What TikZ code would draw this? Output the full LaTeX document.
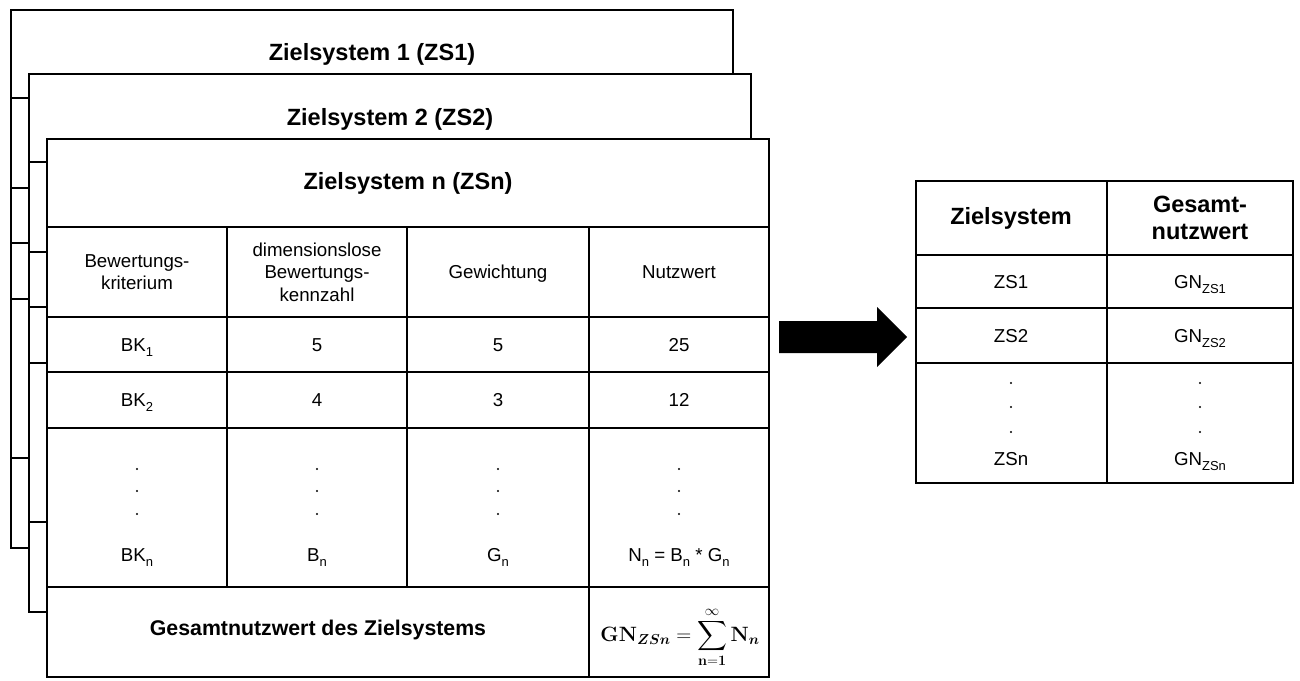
\documentclass[tikz,border=0pt]{standalone}
\usepackage{amsmath}
\usepackage[no-math]{fontspec}
\setmainfont{Liberation Sans}
\usetikzlibrary{calc}

% lowered, smaller index for plain-text labels such as BK_1 (takes no vertical room)
\newcommand\lowsub[1]{\raisebox{-0.27em}[0pt][0pt]{\fontsize{13}{13}\selectfont #1}}

\tikzset{
  rule/.style={line width=1.3pt},
  sheetframe/.style={draw, fill=white, line width=1.3pt},
  heavy/.style={line width=2.4pt},
  ttl/.style={font=\fontsize{23.5}{27}\selectfont\bfseries, align=center, inner sep=0pt},
  sumttl/.style={font=\fontsize{21.3}{25}\selectfont\bfseries, align=center, inner sep=0pt},
  cell/.style={font=\fontsize{18.7}{22.5}\selectfont, align=center, inner sep=0pt},
  one/.style={cell, text height=13.4pt, text depth=0pt},
  dot/.style={fill=black},
}

\begin{document}
\begin{tikzpicture}[x=1pt, y=-1pt]
\useasboundingbox (0,0) rectangle (1300,680);
\fill[white] (0,0) rectangle (1300,680);

% ---- sheets behind: frames and row rules only (their left strip shows) ----
\draw[sheetframe] (11,10) rectangle ++(722,538);
\foreach \r in {88,178,233,289,448}
  \draw[rule] (11,10+\r) -- ++(722,0);
\node[ttl] (zs1) at (372,54) {Zielsystem 1 (ZS1)};

\draw[sheetframe] (29,74) rectangle ++(722,538);
\foreach \r in {88,178,233,289,448}
  \draw[rule] (29,74+\r) -- ++(722,0);
\node[ttl] (zs2) at (390,119) {Zielsystem 2 (ZS2)};

% ---- front sheet: Zielsystem n ----
\draw[sheetframe] (47,139) rectangle (769,677);
\foreach \y in {227,317,372,428,587}
  \draw[rule] (47,\y) -- (769,\y);
\foreach \x in {227,407,589}
  \draw[rule] (\x,227) -- (\x,587);
\draw[heavy] (589,587) rectangle (769,677);

\node[ttl] (zsn) at (408,183) {Zielsystem n (ZSn)};

\node[cell] (hA) at (137,272) {Bewertungs-\\kriterium};
\node[cell] (hB) at (317,272) {dimensionslose\\Bewertungs-\\kennzahl};
\node[one] (hC) at (498,272) {Gewichtung};
\node[one] (hD) at (679,272) {Nutzwert};

\node[one] (a1) at (137,345) {BK\lowsub{1}};
\node[one] (b1) at (317,345) {5};
\node[one] (c1) at (498,345) {5};
\node[one] (d1) at (679,345) {25};

\node[one] (a2) at (137,400) {BK\lowsub{2}};
\node[one] (b2) at (317,400) {4};
\node[one] (c2) at (498,400) {3};
\node[one] (d2) at (679,400) {12};

\foreach \x in {137,317,498,679}
  \foreach \y in {469,491,514}
    \fill[dot] (\x,\y) circle (1.2);

\node[one] (an) at (137,555) {BK\lowsub{n}};
\node[one] (bn) at (317,555) {B\lowsub{n}};
\node[one] (cn) at (498,555) {G\lowsub{n}};
\node[one] (dn) at (679,555) {N\lowsub{n} = B\lowsub{n} * G\lowsub{n}};

\node[sumttl] (gsum) at (318,630) {Gesamtnutzwert des Zielsystems};
\node[inner sep=0pt, font=\fontsize{22.5}{26}\selectfont] (gform) at (680,637)
  {$\displaystyle \mathbf{GN}_{\boldsymbol{ZSn}} = \sum_{\mathbf{n=1}}^{\infty}\mathbf{N}_{\boldsymbol{n}}$};

% ---- block arrow ----
\coordinate (arrL) at (779,337);
\coordinate (arrR) at (907,337);
\fill[black] ($(arrL)+(0,-16)$) -- ($(arrR)+(-30,-16)$) -- ($(arrR)+(-30,-30)$)
  -- (arrR) -- ($(arrR)+(-30,30)$) -- ($(arrR)+(-30,16)$) -- ($(arrL)+(0,16)$) -- cycle;

% ---- summary table ----
\draw[line width=1.6pt] (916,181) rectangle (1293,483);
\foreach \y in {255,308,363}
  \draw[line width=1.6pt] (916,\y) -- (1293,\y);
\draw[line width=1.6pt] (1107,181) -- (1107,483);

\node[ttl] (sA) at (1011,218) {Zielsystem};
\node[ttl] (sB) at (1200,218) {Gesamt-\\nutzwert};
\node[one] (r1a) at (1011,282) {ZS1};
\node[one] (r1b) at (1200,282) {GN\lowsub{ZS1}};
\node[one] (r2a) at (1011,336) {ZS2};
\node[one] (r2b) at (1200,336) {GN\lowsub{ZS2}};
\foreach \x in {1011,1200}
  \foreach \y in {383,407,432}
    \fill[dot] (\x,\y) circle (1.2);
\node[one] (rna) at (1011,459) {ZSn};
\node[one] (rnb) at (1200,459) {GN\lowsub{ZSn}};
\end{tikzpicture}
\end{document}
